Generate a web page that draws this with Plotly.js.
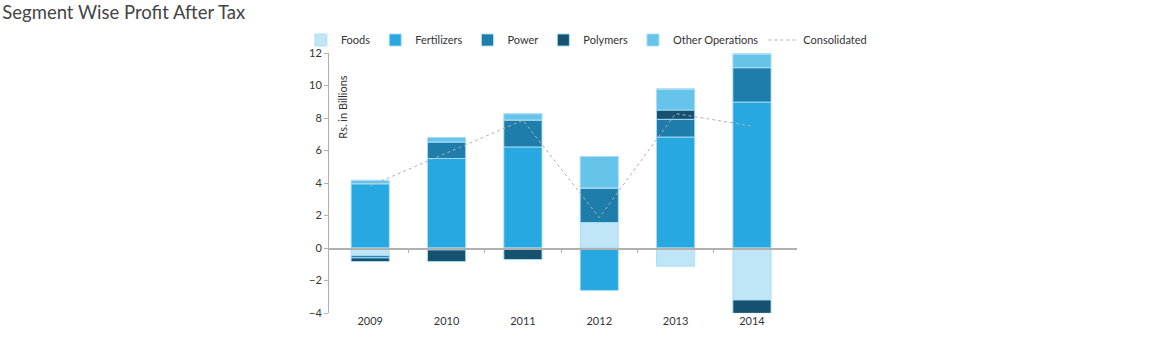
<!DOCTYPE html>
<html>
<head>
<meta charset="utf-8">
<script src="https://cdn.plot.ly/plotly-3.0.1.min.js"></script>
<style>html,body{margin:0;padding:0;background:#fff;}#chart{width:1154px;height:353px;}</style>
</head>
<body>
<div id="chart"></div>
<script>
const years = ['2009', '2010', '2011', '2012', '2013', '2014'];
// positive and negative parts of each segment (Rs. in Billions)
const foodsPos = [0, 0, 0, 1.57, 0, 0];
const foodsNeg = [-0.47, -0.12, 0, 0, -1.12, -3.2];
const fertPos = [3.96, 5.51, 6.22, 0, 6.83, 8.98];
const fertNeg = [0, 0, 0, -2.61, 0, 0];
const powerPos = [0, 1.02, 1.66, 2.12, 1.09, 2.12];
const powerNeg = [-0.14, 0, 0, 0, 0, 0];
const polymersPos = [0, 0, 0, 0, 0.57, 0];
const polymersNeg = [-0.22, -0.71, -0.71, 0, 0, -0.82];
const otherPos = [0.2, 0.27, 0.39, 1.94, 1.28, 0.84];
const consolidated = [3.83, 5.85, 7.86, 1.87, 8.27, 7.51];
const boundaryTicks = [0.5, 1.5, 2.5, 3.5, 4.5];

const colors = {
  foods: '#bfe5f6',
  fert: '#27a8e1',
  power: '#1f7dab',
  polymers: '#14526f',
  other: '#66c4eb'
};
const outline = {color: 'rgba(170,222,246,0.9)', width: 1};

function bar(name, y, color, show, group) {
  return {type: 'bar', name: name, x: years, y: y, legendgroup: group, showlegend: show,
    marker: {color: color, line: outline}, hoverinfo: 'y+name'};
}

const traces = [
  bar('Foods', foodsPos, colors.foods, true, 'f'),
  bar('Fertilizers', fertPos, colors.fert, true, 'fe'),
  bar('Power', powerPos, colors.power, true, 'p'),
  bar('Polymers', polymersPos, colors.polymers, true, 'po'),
  bar('Other Operations', otherPos, colors.other, true, 'o'),
  bar('Foods', foodsNeg, colors.foods, false, 'f'),
  bar('Fertilizers', fertNeg, colors.fert, false, 'fe'),
  bar('Power', powerNeg, colors.power, false, 'p'),
  bar('Polymers', polymersNeg, colors.polymers, false, 'po'),
  {type: 'scatter', mode: 'lines', name: 'Consolidated', x: years, y: consolidated,
    line: {color: '#b0b0b0', width: 1, dash: '3px,3px'}},
  // carrier for the boundary ticks on the zero line
  {type: 'scatter', mode: 'markers', x: [], y: [], xaxis: 'x2', yaxis: 'y',
    showlegend: false, hoverinfo: 'skip'}
];

const font = 'Lato, Open Sans, sans-serif';
const layout = {
  width: 1154, height: 353,
  margin: {l: 329, r: 357, t: 53, b: 40},
  paper_bgcolor: '#fff', plot_bgcolor: '#fff',
  barmode: 'relative',
  bargap: 0.5,
  font: {family: font, size: 11, color: '#333'},
  showlegend: true,
  legend: {orientation: 'h', x: 1.16, y: 1.05, xanchor: 'right', yanchor: 'middle',
    bgcolor: 'rgba(0,0,0,0)',
    font: {size: 11, color: '#333'}, traceorder: 'normal', itemwidth: 30,
    tracegroupgap: 0},
  xaxis: {type: 'category', categoryarray: years, range: [-0.54, 5.59],
    showgrid: false, showline: false, zeroline: false, ticks: '',
    tickfont: {size: 11, color: '#333'}, fixedrange: true},
  xaxis2: {overlaying: 'x', anchor: 'free', position: 0.25, range: [-0.54, 5.59],
    showgrid: false, zeroline: false, showline: true, linecolor: '#b0b0b0', linewidth: 1.5,
    ticks: 'outside', ticklen: 3, tickcolor: '#b0b0b0', tickmode: 'array',
    tickvals: boundaryTicks, showticklabels: false},
  yaxis: {range: [-4, 12], dtick: 2, showgrid: false, zeroline: false,
    showline: true, linecolor: '#b0b0b0', linewidth: 1, ticks: 'outside', ticklen: 4,
    tickcolor: '#b0b0b0', tickfont: {size: 11, color: '#333'}},
  title: {text: 'Segment Wise Profit After Tax', x: 0.002, xref: 'container', xanchor: 'left',
    y: 0.965, yanchor: 'middle', pad: {l: 0},
    font: {family: font, size: 18.5, color: '#444'}},
  annotations: [{text: 'Rs. in Billions', xref: 'paper', yref: 'paper', x: 0.03, y: 0.79,
    textangle: -90, showarrow: false, font: {size: 11, color: '#333'}, xanchor: 'center', yanchor: 'middle'}]
};

Plotly.newPlot('chart', traces, layout, {displayModeBar: false, staticPlot: true});
</script>
</body>
</html>
